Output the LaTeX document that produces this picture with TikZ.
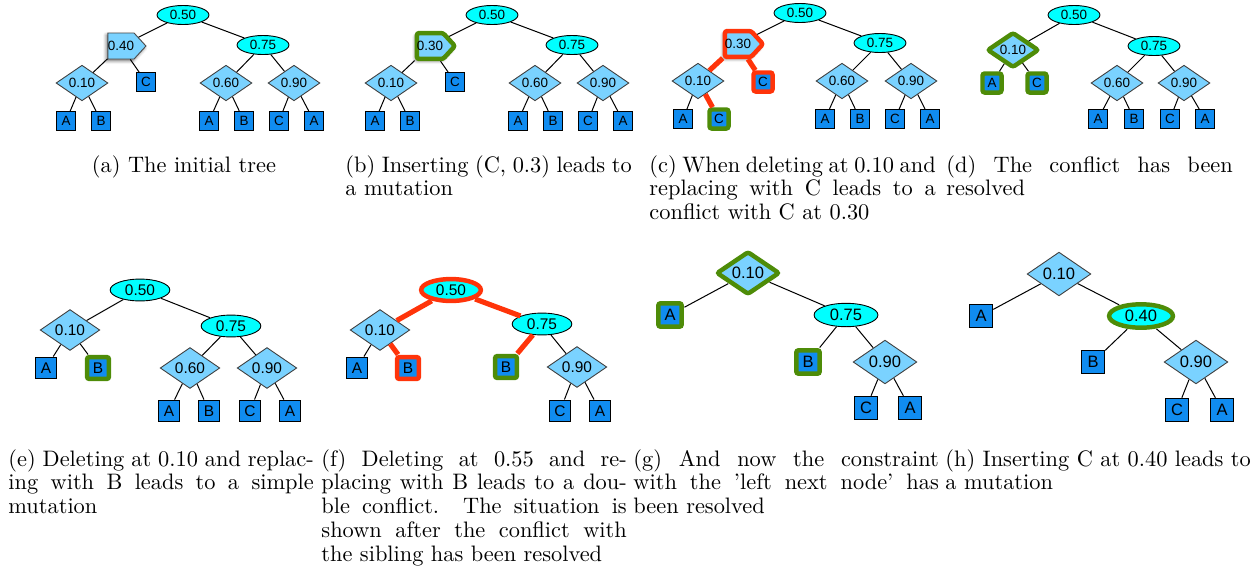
\documentclass[tikz,border=0pt]{standalone}
\usepackage{fontspec}
\usepackage{xcolor}
\usepackage{tikz}
\usetikzlibrary{shapes.geometric,shapes.symbols,shadows.blur}
\newfontfamily\nodefont{Liberation Sans}

\definecolor{ellcol}{RGB}{0,255,255}
\definecolor{diacol}{RGB}{122,210,255}
\definecolor{leafcol}{RGB}{16,140,240}
\definecolor{okgreen}{RGB}{78,140,8}
\definecolor{badred}{RGB}{255,52,10}

\tikzset{
  nodetxt/.style={font=\nodefont\fontsize{6}{6}\selectfont, inner sep=0pt},
  ellnode/.style={nodetxt, ellipse, draw=black, line width=0.4pt, fill=ellcol,
    minimum width=23.2pt, minimum height=8.5pt},
  dianode/.style={nodetxt, diamond, draw=black!75, line width=0.4pt, fill=diacol,
    minimum width=23.2pt, minimum height=11.6pt},
  leaf/.style={nodetxt, rectangle, draw=black, line width=0.4pt, fill=leafcol,
    minimum size=8.5pt},
  pent/.style={nodetxt, signal, signal to=east, signal pointer angle=95,
    draw=black!70, line width=0.4pt, fill=diacol, minimum width=17pt, minimum height=11.6pt,
    blur shadow={shadow xshift=-0.7pt, shadow yshift=-0.9pt, shadow blur radius=1.4pt, shadow opacity=55}},
  okhl/.style={draw=okgreen, line width=2pt, rounded corners=1pt},
  badhl/.style={draw=badred, line width=2pt, rounded corners=1pt},
  link/.style={draw=black, line width=0.45pt},
  badlink/.style={draw=badred, line width=2.3pt},
  grow/.style={every node/.append style={scale=#1}},
  capt/.style={anchor=base west, inner sep=0pt},
}
\newcommand{\capbox}[2]{\parbox[t]{#1}{\fontsize{10}{10.7}\selectfont #2}}

\begin{document}
\begin{tikzpicture}[x=0.447pt, y=-0.447pt]
\useasboundingbox (0,0) rectangle (1259,575);

% (a) the starting tree
\begin{scope}[name prefix=a-]
  \node[ellnode] (r) at (183,15) {0.50};
  \node[pent] (p) at (121,46) {0.40};
  \node[ellnode] (m) at (263,45) {0.75};
  \node[dianode] (d1) at (82,83) {0.10};
  \node[leaf] (c1) at (146,82) {C};
  \node[dianode] (d2) at (226,83) {0.60};
  \node[dianode] (d3) at (294,83) {0.90};
  \foreach \n/\x/\t in {l1/66/A, l2/101/B, l3/209/A, l4/244/B, l5/279/C, l6/314/A}
    \node[leaf] (\n) at (\x,121) {\t};
  \foreach \u/\v in {r/p, r/m, p/d1, p/c1, d1/l1, d1/l2, m/d2, m/d3, d2/l3, d2/l4, d3/l5, d3/l6}
    \draw[link] (\u) -- (\v);
\end{scope}

% (b) insert gives a mutation
\begin{scope}[name prefix=b-]
  \node[ellnode] (r) at (492,15) {0.50};
  \node[pent, okhl] (p) at (430,46) {0.30};
  \node[ellnode] (m) at (572,45) {0.75};
  \node[dianode] (d1) at (391,83) {0.10};
  \node[leaf] (c1) at (455,82) {C};
  \node[dianode] (d2) at (535,83) {0.60};
  \node[dianode] (d3) at (603,83) {0.90};
  \foreach \n/\x/\t in {l1/375/A, l2/410/B, l3/518/A, l4/553/B, l5/588/C, l6/623/A}
    \node[leaf] (\n) at (\x,121) {\t};
  \foreach \u/\v in {r/p, r/m, p/d1, p/c1, d1/l1, d1/l2, m/d2, m/d3, d2/l3, d2/l4, d3/l5, d3/l6}
    \draw[link] (\u) -- (\v);
\end{scope}

% (c) conflict with C
\begin{scope}[name prefix=c-]
  \node[ellnode] (r) at (800,13) {0.50};
  \node[pent, badhl] (p) at (738,44) {0.30};
  \node[ellnode] (m) at (880,43) {0.75};
  \node[dianode] (d1) at (698,81) {0.10};
  \node[leaf, badhl] (c1) at (763,82) {C};
  \node[dianode] (d2) at (842,81) {0.60};
  \node[dianode] (d3) at (911,81) {0.90};
  \node[leaf] (l1) at (683,119) {A};
  \node[leaf, okhl] (l2) at (719,119) {C};
  \foreach \n/\x/\t in {l3/825/A, l4/860/B, l5/895/C, l6/930/A}
    \node[leaf] (\n) at (\x,119) {\t};
  \foreach \u/\v in {r/p, r/m, d1/l1, m/d2, m/d3, d2/l3, d2/l4, d3/l5, d3/l6}
    \draw[link] (\u) -- (\v);
  \foreach \u/\v in {p/d1, p/c1, d1/l2}
    \draw[badlink] (\u) -- (\v);
\end{scope}

% (d) resolved
\begin{scope}[name prefix=d-]
  \node[ellnode] (r) at (1074,15) {0.50};
  \node[dianode, okhl] (d1) at (1013,50) {0.10};
  \node[ellnode] (m) at (1154,46) {0.75};
  \node[leaf, okhl] (l1) at (992,83) {A};
  \node[leaf, okhl] (l2) at (1037,83) {C};
  \node[dianode] (d2) at (1117,83) {0.60};
  \node[dianode] (d3) at (1184,83) {0.90};
  \foreach \n/\x/\t in {l3/1098/A, l4/1134/B, l5/1170/C, l6/1205/A}
    \node[leaf] (\n) at (\x,119) {\t};
  \foreach \u/\v in {r/d1, r/m, d1/l1, d1/l2, m/d2, m/d3, d2/l3, d2/l4, d3/l5, d3/l6}
    \draw[link] (\u) -- (\v);
\end{scope}

% (e) simple mutation
\begin{scope}[name prefix=e-, grow=1.15]
  \node[ellnode] (r) at (140,290) {0.50};
  \node[dianode] (d1) at (70,330) {0.10};
  \node[ellnode] (m) at (231,326) {0.75};
  \node[leaf] (l1) at (46,368) {A};
  \node[leaf, okhl] (l2) at (98,368) {B};
  \node[dianode] (d2) at (190,368) {0.60};
  \node[dianode] (d3) at (267,368) {0.90};
  \foreach \n/\x/\t in {l3/169/A, l4/209/B, l5/250/C, l6/290/A}
    \node[leaf] (\n) at (\x,411) {\t};
  \foreach \u/\v in {r/d1, r/m, d1/l1, d1/l2, m/d2, m/d3, d2/l3, d2/l4, d3/l5, d3/l6}
    \draw[link] (\u) -- (\v);
\end{scope}

% (f) double conflict
\begin{scope}[name prefix=f-, grow=1.15]
  \node[ellnode, badhl] (r) at (451,290) {0.50};
  \node[dianode] (d1) at (380,330) {0.10};
  \node[ellnode] (m) at (542,324) {0.75};
  \node[leaf] (l1) at (357,368) {A};
  \node[leaf, badhl] (l2) at (408,368) {B};
  \node[leaf, okhl] (l3) at (506,367) {B};
  \node[dianode] (d3) at (577,367) {0.90};
  \node[leaf] (l5) at (560,411) {C};
  \node[leaf] (l6) at (600,411) {A};
  \foreach \u/\v in {d1/l1, m/d3, d3/l5, d3/l6}
    \draw[link] (\u) -- (\v);
  \foreach \u/\v in {r/d1, r/m, d1/l2, m/l3}
    \draw[badlink] (\u) -- (\v);
\end{scope}

% (g) left next node resolved
\begin{scope}[name prefix=g-, grow=1.23]
  \node[dianode, okhl] (d1) at (748,273) {0.10};
  \node[leaf, okhl] (l1) at (670,315) {A};
  \node[ellnode] (m) at (846,315) {0.75};
  \node[leaf, okhl] (l3) at (808,362) {B};
  \node[dianode] (d3) at (885,362) {0.90};
  \node[leaf] (l5) at (866,408) {C};
  \node[leaf] (l6) at (910,408) {A};
  \foreach \u/\v in {d1/l1, d1/m, m/l3, m/d3, d3/l5, d3/l6}
    \draw[link] (\u) -- (\v);
\end{scope}

% (h) insert at 0.40
\begin{scope}[name prefix=h-, grow=1.23]
  \node[dianode] (d1) at (1059,274) {0.10};
  \node[leaf] (l1) at (981,316) {A};
  \node[ellnode, okhl] (m) at (1141,316) {0.40};
  \node[leaf] (l3) at (1093,362) {B};
  \node[dianode] (d3) at (1196,362) {0.90};
  \node[leaf] (l5) at (1177,410) {C};
  \node[leaf] (l6) at (1222,410) {A};
  \foreach \u/\v in {d1/l1, d1/m, m/l3, m/d3, d3/l5, d3/l6}
    \draw[link] (\u) -- (\v);
\end{scope}

% captions
\node[anchor=base, inner sep=0pt] (capa) at (184,172) {(a) The initial tree};
\node[capt] (capb) at (345,172) {\capbox{128pt}{(b) Inserting (C, 0.3) leads to\linebreak a mutation}};
\node[capt] (capc) at (649,172) {\capbox{128pt}{(c) When deleting at 0.10 and\linebreak replacing with C leads to a\linebreak conflict with C at 0.30}};
\node[capt] (capd) at (946,172) {\capbox{128pt}{(d) The conflict has been\linebreak resolved}};
\node[capt] (cape) at (8,466) {\capbox{136.5pt}{(e) Deleting at 0.10 and replac-\linebreak ing with B leads to a simple\linebreak mutation}};
\node[capt] (capf) at (321,466) {\capbox{136.5pt}{(f) Deleting at 0.55 and re-\linebreak placing with B leads to a dou-\linebreak ble conflict. The situation is\linebreak shown after the conflict with\linebreak the sibling has been resolved}};
\node[capt] (capg) at (633,466) {\capbox{136.5pt}{(g) And now the constraint\linebreak with the 'left next node' has\linebreak been resolved}};
\node[capt] (caph) at (945,466) {\capbox{136.5pt}{(h) Inserting C at 0.40 leads to\linebreak a mutation}};
\end{tikzpicture}
\end{document}
